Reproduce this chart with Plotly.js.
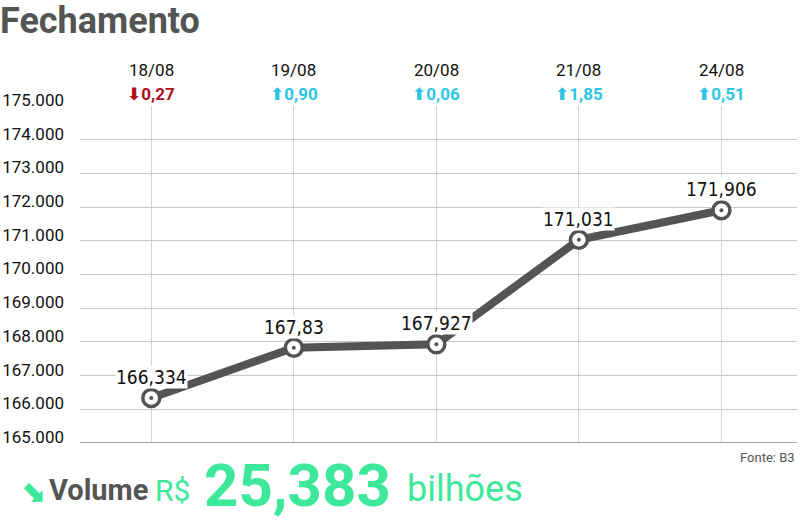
<!DOCTYPE html>
<html><head><meta charset="utf-8">
<script src="https://cdn.plot.ly/plotly-3.0.1.min.js"></script>
<style>body{margin:0;background:#fff}#chart{width:800px;height:521px}</style>
</head><body><div id="chart"></div>
<script>
const dates = ["18/08", "19/08", "20/08", "21/08", "24/08"];
const closeValues = [166334, 167830, 167927, 171031, 171906];
const valueLabels = ["166,334", "167,83", "167,927", "171,031", "171,906"];
const changeDirection = ["down", "up", "up", "up", "up"];
const changeLabels = ["0,27", "0,90", "0,06", "1,85", "0,51"];
const yTicks = [165000, 166000, 167000, 168000, 169000, 170000, 171000, 172000, 173000, 174000, 175000];

const xIdx = dates.map((d, i) => i);
const dark = "#545454";
const green = "#3ee89a";
const pxY = (py) => 1 - (py - 106) / (443 - 106);
const pxX = (px) => (px - 80) / 717;
const annotations = [];
dates.forEach((d, i) => {
  annotations.push({x: i, y: 1, xref: "x", yref: "paper", yanchor: "middle", yshift: 36, text: d, showarrow: false,
    font: {family: "Roboto", size: 17, color: "#111"}});
  const down = changeDirection[i] === "down";
  annotations.push({x: i, y: 1, xref: "x", yref: "paper", yanchor: "middle", yshift: 12,
    text: "<b><span style='font-family:DejaVu Sans'>" + (down ? "⬇" : "⬆") + "</span>" + changeLabels[i] + "</b>", showarrow: false,
    font: {family: "Roboto", size: 17, color: down ? "#b0101e" : "#2cc6e3"}});
  annotations.push({x: i, y: closeValues[i], xref: "x", yref: "y", yshift: 21, text: valueLabels[i],
    showarrow: false, bgcolor: "#fff", borderpad: 0,
    font: {family: "DejaVu Sans Condensed, Roboto", size: 19, color: "#111"}});
});
annotations.push(
  {xref: "paper", yref: "paper", x: pxX(797), xanchor: "right", y: pxY(457), yanchor: "middle",
   text: "Fonte: B3", showarrow: false, font: {family: "Roboto", size: 13, color: "#555"}},
  {xref: "paper", yref: "paper", x: pxX(18), xanchor: "left", y: pxY(490), yanchor: "middle",
   text: "<b>⬊</b>", showarrow: false, font: {family: "DejaVu Sans", size: 30, color: green}},
  {xref: "paper", yref: "paper", x: pxX(47), xanchor: "left", y: pxY(490), yanchor: "middle",
   text: "<b>Volume</b>", showarrow: false, font: {family: "Roboto", size: 29, color: dark}},
  {xref: "paper", yref: "paper", x: pxX(153), xanchor: "left", y: pxY(490), yanchor: "middle",
   text: "R$", showarrow: false, font: {family: "Roboto", size: 30, color: green}},
  {xref: "paper", yref: "paper", x: pxX(202), xanchor: "left", y: pxY(485), yanchor: "middle",
   text: "<b>25,383</b>", showarrow: false, font: {family: "Roboto", size: 60, color: green}},
  {xref: "paper", yref: "paper", x: pxX(405), xanchor: "left", y: pxY(489), yanchor: "middle",
   text: "bilhões", showarrow: false, font: {family: "Roboto", size: 36, color: green}}
);

const data = [
  {x: xIdx, y: closeValues, type: "scatter", mode: "lines+markers",
   line: {color: dark, width: 8},
   marker: {size: 17, color: "#fff", line: {color: dark, width: 3.5}},
   hoverinfo: "skip", cliponaxis: false},
  {x: xIdx, y: closeValues, type: "scatter", mode: "markers",
   marker: {size: 4, color: dark}, hoverinfo: "skip", cliponaxis: false}
];

const layout = {
  width: 800, height: 521,
  margin: {l: 80, r: 3, t: 106, b: 78},
  paper_bgcolor: "#fff", plot_bgcolor: "#fff",
  showlegend: false,
  separators: ",.",
  title: {text: "<b>Fechamento</b>", x: 0, xref: "container", xanchor: "left", y: 1 - 20 / 521, yref: "container", yanchor: "middle",
          pad: {t: 0, l: 0}, font: {family: "Roboto", size: 36, color: dark}},
  xaxis: {range: [-0.5, 4.53], tickvals: xIdx, showticklabels: false, showgrid: true,
          gridcolor: "#cbd6d6", gridwidth: 1, zeroline: false, showline: false, ticks: "", fixedrange: true},
  yaxis: {range: [165000, 175000], tickvals: yTicks, tickformat: ",d", showgrid: true,
          gridcolor: "#c8c8c8", gridwidth: 1, zeroline: false, showline: false, ticks: "",
          ticklabelshift: -6, ticklabelstandoff: 15,
          tickfont: {family: "Roboto", size: 17, color: "#111"}, fixedrange: true},
  shapes: [{type: "line", xref: "paper", yref: "y", x0: 0, x1: 1, y0: 165000, y1: 165000,
            line: {color: "#8a8a8a", width: 1.5}}],
  annotations: annotations
};
Plotly.newPlot("chart", data, layout, {displayModeBar: false, staticPlot: true});
</script></body></html>
